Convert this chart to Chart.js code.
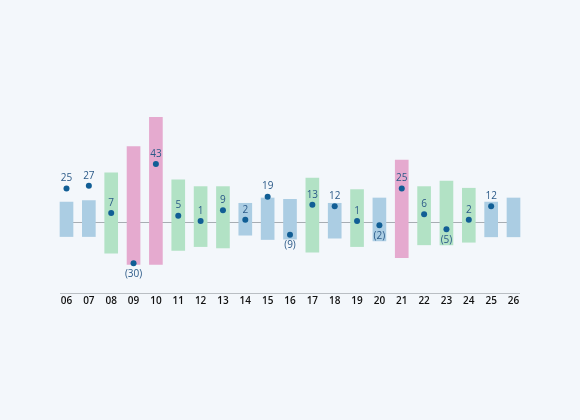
<!DOCTYPE html>
<html>
<head>
<meta charset="utf-8">
<script src="https://cdn.jsdelivr.net/npm/chart.js@4"></script>
<style>
  html, body { margin: 0; padding: 0; background: #f3f7fb; }
  #wrap { width: 580px; height: 420px; }
</style>
</head>
<body>
<div id="wrap"><canvas id="myChart"></canvas></div>
<script>
// Category labels along the x axis
const labels = ['06','07','08','09','10','11','12','13','14','15','16','17','18','19','20','21','22','23','24','25','26'];

// Floating bar ranges (low / high)
const lows  = [-10.4,-10.4,-22.7,-30.9,-30.9,-20.7,-17.8,-18.8,-9.4,-12.6,-12.3,-22.0,-11.6,-17.8,-13.6,-25.9,-16.5,-16.5,-14.6,-10.6,-10.6];
const highs = [15.0,16.1,36.5,55.8,77.5,31.4,26.4,26.4,14.1,18.0,17.0,32.6,14.1,24.2,18.0,45.9,26.4,30.4,25.2,15.0,18.0];

// Group of each bar: b = blue, g = green, p = pink
const groups = ['b','b','g','p','p','g','g','g','b','b','b','g','b','g','b','p','g','g','g','b','b'];

// Point values (shown as labels, negatives in brackets)
const values = [25,27,7,-30,43,5,1,9,2,19,-9,13,12,1,-2,25,6,-5,2,12,null];

const groupColors = { b: '#abcde3', g: '#b2e2c5', p: '#e5aacf' };

// Draws the baseline and the zero line slightly wider than the chart area
const linesPlugin = {
    id: 'lines',
    beforeDatasetsDraw(chart) {
        const { ctx, chartArea, scales } = chart;
        const half = 6.5;
        ctx.save();
        ctx.strokeStyle = '#a7adb3';
        ctx.lineWidth = 1;
        const y0 = Math.round(scales.y.getPixelForValue(0)) + 0.5;
        ctx.beginPath();
        ctx.moveTo(chartArea.left - half, y0);
        ctx.lineTo(chartArea.right + half, y0);
        ctx.stroke();
        ctx.strokeStyle = '#b9bec3';
        const yb = Math.round(chartArea.bottom) + 0.5;
        ctx.beginPath();
        ctx.moveTo(chartArea.left - half, yb);
        ctx.lineTo(chartArea.right + half, yb);
        ctx.stroke();
        ctx.restore();
    }
};

// Value labels above (positive) or below (negative) each point
const valueLabels = {
    id: 'valueLabels',
    afterDatasetsDraw(chart) {
        const { ctx } = chart;
        const meta = chart.getDatasetMeta(1);
        ctx.save();
        ctx.font = '10px "Open Sans"';
        ctx.fillStyle = '#2b5a88';
        ctx.textAlign = 'center';
        ctx.textBaseline = 'middle';
        meta.data.forEach((pt, i) => {
            const v = values[i];
            if (v === null) return;
            const text = v < 0 ? '(' + Math.abs(v) + ')' : String(v);
            const y = v < 0 ? pt.y + 11 : pt.y - 10;
            ctx.fillText(text, pt.x, y);
        });
        ctx.restore();
    }
};

const ctx = document.getElementById('myChart').getContext('2d');
new Chart(ctx, {
    type: 'bar',
    data: {
        labels: labels,
        datasets: [
            {
                type: 'bar',
                data: lows.map((lo, i) => [lo, highs[i]]),
                backgroundColor: groups.map(g => groupColors[g]),
                barThickness: 13,
                borderWidth: 0,
                borderSkipped: false,
                clip: false,
                order: 2
            },
            {
                type: 'line',
                data: values,
                showLine: false,
                pointRadius: 3,
                pointHoverRadius: 3,
                pointBackgroundColor: '#115e95',
                pointBorderWidth: 0,
                clip: false,
                order: 1
            }
        ]
    },
    options: {
        responsive: true,
        maintainAspectRatio: false,
        animation: false,
        layout: { padding: { left: 66.5, right: 66.5, top: 103, bottom: 111 } },
        plugins: {
            legend: { display: false },
            tooltip: { enabled: false }
        },
        scales: {
            x: {
                offset: false,
                grid: { display: false, drawTicks: false },
                border: { display: false },
                ticks: {
                    color: '#111',
                    font: { family: 'Open Sans', size: 10, weight: '600' },
                    padding: 2,
                    maxRotation: 0,
                    autoSkip: false
                }
            },
            y: {
                display: false,
                min: -52,
                max: 88
            }
        }
    },
    plugins: [linesPlugin, valueLabels]
});
</script>
</body>
</html>
